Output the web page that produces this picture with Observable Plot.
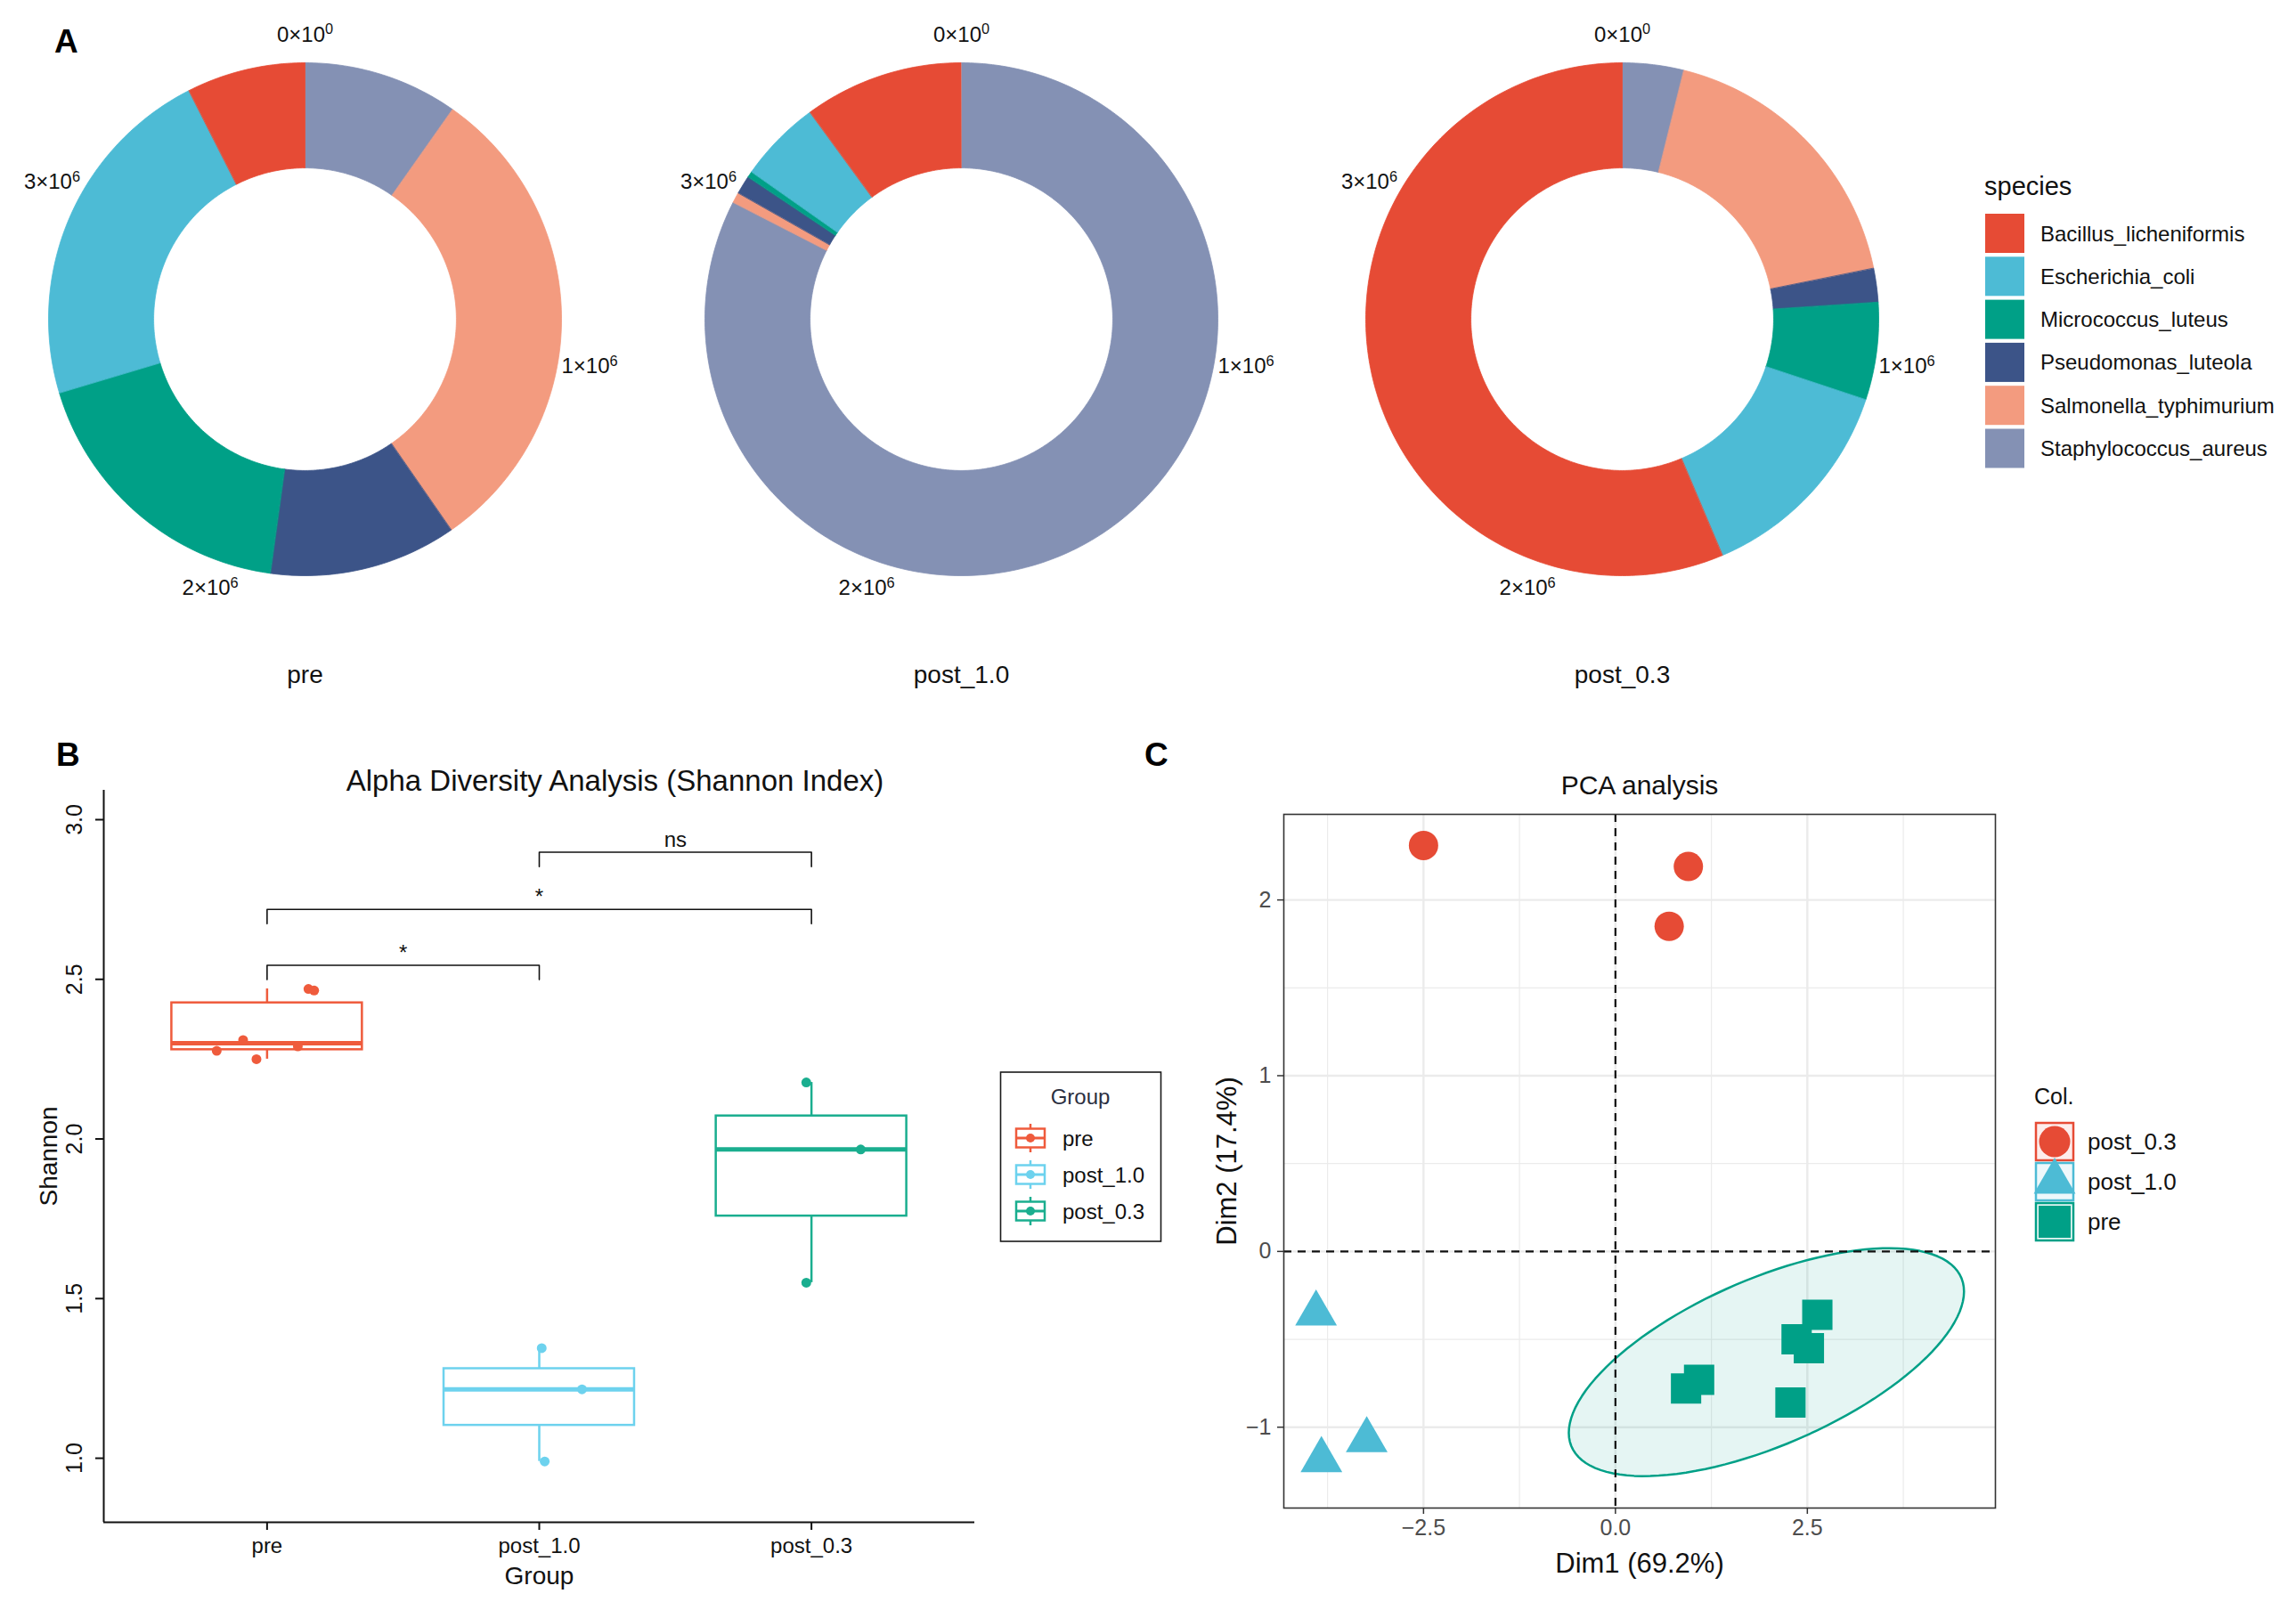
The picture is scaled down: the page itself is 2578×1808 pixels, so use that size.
<!DOCTYPE html>
<html><head><meta charset="utf-8">
<script src="https://cdn.jsdelivr.net/npm/d3@7"></script>
<script src="https://cdn.jsdelivr.net/npm/@observablehq/plot@0.6"></script>
<style>
html,body{margin:0;padding:0;background:#fff;}
#root{position:relative;width:2578px;height:1808px;overflow:hidden;background:#fff;font-family:"Liberation Sans",Arial,Helvetica,sans-serif;}
</style></head><body><div id="root"></div>
<script>
// ---------------- data ----------------
// Panel A: species counts per sample
const speciesNames = ["Bacillus_licheniformis","Escherichia_coli","Micrococcus_luteus","Pseudomonas_luteola","Salmonella_typhimurium","Staphylococcus_aureus"];
const speciesColors = ["#E64B35","#4DBBD5","#00A087","#3C5488","#F39B7F","#8491B4"];
const sampleNames = ["pre","post_1.0","post_0.3"];
const countsPre    = [270000, 801000, 658000, 427000, 1106000, 353000];
const countsPost10 = [362000, 188000, 14000, 42000, 24000, 2984000];
const countsPost03 = [2038000, 489000, 222000, 77000, 649000, 140000];
const thetaTicks = [0, 1e6, 2e6, 3e6];
const thetaTickLabels = ["0×10⁰","1×10⁶","2×10⁶","3×10⁶"];

// Panel B: Shannon index
const groupNames = ["pre","post_1.0","post_0.3"];
const groupColors = ["#EF5B3C","#6DD2EE","#1AAE8F"];
const shannonPre    = [2.276, 2.31, 2.25, 2.29, 2.47, 2.465];
const jitterPre     = [-0.185, -0.088, -0.039, 0.113, 0.152, 0.173];
const shannonPost10 = [1.345, 1.216, 0.99];
const jitterPost10  = [0.009, 0.157, 0.02];
const shannonPost03 = [2.177, 1.967, 1.55];
const jitterPost03  = [-0.019, 0.181, -0.019];
const shannonTicks = [1.0, 1.5, 2.0, 2.5, 3.0];
const compGroup1 = ["post_1.0","pre","pre"];
const compGroup2 = ["post_0.3","post_0.3","post_1.0"];
const compY      = [2.898, 2.719, 2.544];
const compLabel  = ["ns","*","*"];

// Panel C: PCA coordinates
const pcaGroups = ["post_0.3","post_1.0","pre"];
const pcaColors = ["#E64B35","#4DBBD5","#00A087"];
const pcaSymbols = ["circle","triangle","square"];
const dim1Post03 = [-2.50, 0.95, 0.70];
const dim2Post03 = [2.31, 2.19, 1.85];
const dim1Post10 = [-3.90, -3.24, -3.83];
const dim2Post10 = [-0.353, -1.074, -1.187];
const dim1Pre = [2.63, 2.36, 2.52, 1.09, 0.92, 2.28];
const dim2Pre = [-0.36, -0.50, -0.55, -0.73, -0.78, -0.86];
const dimXTicks = [-2.5, 0, 2.5];
const dimXMinor = [-3.75, -1.25, 1.25, 3.75];
const dimYTicks = [-1, 0, 1, 2];
const dimYMinor = [-0.5, 0.5, 1.5];

// ---------------- helpers ----------------
const FONT = '"Liberation Sans", Arial, Helvetica, sans-serif';
const root = document.getElementById("root");
function place(el, left, top) {
  el.style.position = "absolute";
  el.style.left = left + "px";
  el.style.top = top + "px";
  el.style.background = "transparent";
  el.style.maxWidth = "none";
  el.style.overflow = "visible";
  root.appendChild(el);
}
const SUP = "⁰¹²³⁴⁵⁶⁷⁸⁹";
function superscriptify(svg) {
  d3.select(svg).selectAll("text").each(function () {
    const t = this.textContent;
    const m = t.match(/^(.*?)([⁰¹²³⁴⁵⁶⁷⁸⁹]+)$/);
    if (!m) return;
    const sel = d3.select(this);
    sel.text(null);
    sel.append("tspan").text(m[1]);
    sel.append("tspan").attr("font-size", "0.68em").attr("dy", "-0.5em")
      .text([...m[2]].map(c => SUP.indexOf(c)).join(""));
  });
}

// ---------------- Panel A: donuts ----------------
const R_OUT = 288, HOLE = 0.59;
const donutCenters = [[342, 358], [1079, 358], [1821, 358]];
const allCounts = [countsPre, countsPost10, countsPost03];
const thetaMax = d3.max(allCounts, c => d3.sum(c));
const ang = v => v / thetaMax * 2 * Math.PI;

allCounts.forEach((counts, s) => {
  const poly = [];
  let cum = 0;
  for (let k = counts.length - 1; k >= 0; k--) {
    const a0 = ang(cum); cum += counts[k]; const a1 = ang(cum);
    const n = Math.max(2, Math.ceil((a1 - a0) * 180 / Math.PI));
    for (let i = 0; i <= n; i++) { const a = a0 + (a1 - a0) * i / n; poly.push({species: speciesNames[k], x: Math.sin(a), y: Math.cos(a)}); }
    for (let i = n; i >= 0; i--) { const a = a0 + (a1 - a0) * i / n; poly.push({species: speciesNames[k], x: HOLE * Math.sin(a), y: HOLE * Math.cos(a)}); }
  }
  const p = Plot.plot({
    width: 700, height: 820, margin: 0,
    x: {domain: [-350 / R_OUT, 350 / R_OUT], axis: null},
    y: {domain: [-470 / R_OUT, 350 / R_OUT], axis: null},
    color: {domain: speciesNames, range: speciesColors},
    style: {fontFamily: FONT, background: "transparent", overflow: "visible"},
    marks: [
      Plot.line(poly, {x: "x", y: "y", z: "species", fill: "species", stroke: "species", strokeWidth: 0.8, curve: "linear-closed"}),
      Plot.text(thetaTicks, {x: v => 1.125 * Math.sin(ang(v)), y: v => 1.11 * Math.cos(ang(v)), text: (v, i) => thetaTickLabels[i], fontSize: 24, fill: "#111", lineAnchor: "middle"}),
      Plot.text([sampleNames[s]], {x: 0, y: -400 / R_OUT, text: d => d, fontSize: 28, fill: "#111", lineAnchor: "middle"})
    ]
  });
  superscriptify(p);
  place(p, donutCenters[s][0] - 350, donutCenters[s][1] - 350);
});

// ---------------- Panel B: boxplot ----------------
const shannonVals = [shannonPre, shannonPost10, shannonPost03];
const jitters = [jitterPre, jitterPost10, jitterPost03];
const bPoints = [];
shannonVals.forEach((vals, gi) => vals.forEach((v, j) => bPoints.push({group: groupNames[gi], gx: gi + 1 + jitters[gi][j], y: v})));
const bStats = shannonVals.map((vals, gi) => {
  const s = vals.slice().sort(d3.ascending);
  const q1 = d3.quantile(s, 0.25), med = d3.quantile(s, 0.5), q3 = d3.quantile(s, 0.75);
  const iqr = q3 - q1;
  const lo = d3.min(s.filter(v => v >= q1 - 1.5 * iqr));
  const hi = d3.max(s.filter(v => v <= q3 + 1.5 * iqr));
  return {group: groupNames[gi], gx: gi + 1, q1, med, q3, lo, hi};
});
const gIndex = g => groupNames.indexOf(g) + 1;
const TIP = 0.045;
const bracketPts = [];
compY.forEach((y, i) => {
  const a = gIndex(compGroup1[i]), b = gIndex(compGroup2[i]);
  bracketPts.push({id: i, x: a, y: y - TIP}, {id: i, x: a, y}, {id: i, x: b, y}, {id: i, x: b, y: y - TIP});
});
const comps = compY.map((y, i) => ({x: (gIndex(compGroup1[i]) + gIndex(compGroup2[i])) / 2, y, label: compLabel[i]}));
const fmt1 = d3.format(".1f");

const pB = Plot.plot({
  width: 1110, height: 930,
  marginLeft: 116, marginRight: 16, marginTop: 27, marginBottom: 81,
  x: {domain: [0.4, 3.6], label: null},
  y: {domain: [0.7994, 3.092], label: null},
  color: {domain: groupNames, range: groupColors},
  style: {fontFamily: FONT, background: "transparent", overflow: "visible"},
  marks: [
    Plot.ruleX(bStats, {x: "gx", y1: "q3", y2: "hi", stroke: "group", strokeWidth: 2.5}),
    Plot.ruleX(bStats, {x: "gx", y1: "q1", y2: "lo", stroke: "group", strokeWidth: 2.5}),
    Plot.rect(bStats, {x1: d => d.gx - 0.35, x2: d => d.gx + 0.35, y1: "q1", y2: "q3", stroke: "group", fill: "white", strokeWidth: 2.5}),
    Plot.ruleY(bStats, {y: "med", x1: d => d.gx - 0.35, x2: d => d.gx + 0.35, stroke: "group", strokeWidth: 5}),
    Plot.dot(bPoints, {x: "gx", y: "y", fill: "group", r: 5.5}),
    Plot.line(bracketPts, {x: "x", y: "y", z: "id", stroke: "#111", strokeWidth: 1.6}),
    Plot.text(comps, {x: "x", y: "y", text: "label", lineAnchor: "bottom", dy: -6, fontSize: 24, fill: "#111"}),
    Plot.ruleX([0.4], {stroke: "#111", strokeWidth: 2}),
    Plot.ruleY([0.7994], {stroke: "#111", strokeWidth: 2}),
    Plot.axisX([1, 2, 3], {tickFormat: i => groupNames[i - 1], tickSize: 9, tickPadding: 8, fontSize: 24, fill: "#111", stroke: "#111", strokeWidth: 2, label: null}),
    Plot.axisY(shannonTicks, {tickSize: 9, tickFormat: () => "", stroke: "#111", strokeWidth: 2, label: null}),
    Plot.text(shannonTicks, {y: d => d, text: d => fmt1(d), frameAnchor: "left", dx: -33, rotate: -90, textAnchor: "middle", lineAnchor: "middle", fontSize: 25, fill: "#111"}),
    Plot.text(["Alpha Diversity Analysis (Shannon Index)"], {text: d => d, frameAnchor: "top", dx: 85, dy: -10, textAnchor: "middle", lineAnchor: "middle", fontSize: 33, fill: "#111"}),
    Plot.text(["Group"], {text: d => d, frameAnchor: "bottom", dy: 61, textAnchor: "middle", lineAnchor: "middle", fontSize: 28, fill: "#111"}),
    Plot.text(["Shannon"], {text: d => d, frameAnchor: "left", dx: -61, rotate: -90, textAnchor: "middle", lineAnchor: "middle", fontSize: 28, fill: "#111"})
  ]
});
place(pB, 0, 860);

// ---------------- Panel C: PCA ----------------
const pcaPts = [];
[[dim1Post03, dim2Post03], [dim1Post10, dim2Post10], [dim1Pre, dim2Pre]].forEach(([xs, ys], gi) =>
  xs.forEach((x, j) => pcaPts.push({group: pcaGroups[gi], x, y: ys[j]})));
// 95% normal confidence ellipse for "pre" (as stat_ellipse type = "norm")
const ell = (() => {
  const n = dim1Pre.length, mx = d3.mean(dim1Pre), my = d3.mean(dim2Pre);
  let sxx = 0, syy = 0, sxy = 0;
  for (let i = 0; i < n; i++) { const dx = dim1Pre[i] - mx, dy = dim2Pre[i] - my; sxx += dx * dx; syy += dy * dy; sxy += dx * dy; }
  sxx /= n - 1; syy /= n - 1; sxy /= n - 1;
  const dfd = n - 1, level = 0.95;
  const qf = (dfd / 2) * (Math.pow(1 - level, -2 / dfd) - 1);
  const radius = Math.sqrt(2 * qf);
  const r11 = Math.sqrt(sxx), r12 = sxy / r11, r22 = Math.sqrt(syy - r12 * r12);
  const pts = [];
  for (let i = 0; i <= 120; i++) {
    const t = i / 120 * 2 * Math.PI;
    pts.push({x: mx + radius * Math.cos(t) * r11, y: my + radius * (Math.cos(t) * r12 + Math.sin(t) * r22)});
  }
  return pts;
})();

const pC = Plot.plot({
  width: 1000, height: 940,
  marginLeft: 181, marginRight: 20, marginTop: 54, marginBottom: 107,
  x: {domain: [-4.32, 4.95], label: null},
  y: {domain: [-1.46, 2.487], label: null},
  style: {fontFamily: FONT, background: "transparent", overflow: "visible"},
  marks: [
    Plot.gridX(dimXMinor, {stroke: "#EBEBEB", strokeOpacity: 1, strokeWidth: 1.2}),
    Plot.gridY(dimYMinor, {stroke: "#EBEBEB", strokeOpacity: 1, strokeWidth: 1.2}),
    Plot.gridX(dimXTicks, {stroke: "#EBEBEB", strokeOpacity: 1, strokeWidth: 2.4}),
    Plot.gridY(dimYTicks, {stroke: "#EBEBEB", strokeOpacity: 1, strokeWidth: 2.4}),
    Plot.line(ell, {x: "x", y: "y", fill: pcaColors[2], fillOpacity: 0.1, stroke: pcaColors[2], strokeWidth: 2.5, curve: "linear-closed"}),
    Plot.ruleX([0], {stroke: "#111", strokeWidth: 2.2, strokeDasharray: "9,7"}),
    Plot.ruleY([0], {stroke: "#111", strokeWidth: 2.2, strokeDasharray: "9,7"}),
    Plot.dot(pcaPts.filter(d => d.group === pcaGroups[0]), {x: "x", y: "y", symbol: pcaSymbols[0], r: 16.5, fill: pcaColors[0], stroke: "none"}),
    Plot.dot(pcaPts.filter(d => d.group === pcaGroups[1]), {x: "x", y: "y", symbol: pcaSymbols[1], r: 17.4, fill: pcaColors[1], stroke: "none"}),
    Plot.dot(pcaPts.filter(d => d.group === pcaGroups[2]), {x: "x", y: "y", symbol: pcaSymbols[2], r: 19.2, fill: pcaColors[2], stroke: "none"}),
    Plot.frame({stroke: "#333", strokeWidth: 1.6}),
    Plot.axisX(dimXTicks, {tickFormat: d3.format(".1f"), tickSize: 7, tickPadding: 6, fontSize: 25, fill: "#4D4D4D", stroke: "#333", strokeWidth: 1.5, label: null}),
    Plot.axisY(dimYTicks, {tickFormat: d3.format("d"), tickSize: 7, tickPadding: 7, fontSize: 25, fill: "#4D4D4D", stroke: "#333", strokeWidth: 1.5, label: null}),
    Plot.text(["PCA analysis"], {text: d => d, frameAnchor: "top", dy: -32, textAnchor: "middle", lineAnchor: "middle", fontSize: 30, fill: "#111"}),
    Plot.text(["Dim1 (69.2%)"], {text: d => d, frameAnchor: "bottom", dy: 63, textAnchor: "middle", lineAnchor: "middle", fontSize: 31, fill: "#111"}),
    Plot.text(["Dim2 (17.4%)"], {text: d => d, frameAnchor: "left", dx: -63, rotate: -90, textAnchor: "middle", lineAnchor: "middle", fontSize: 31, fill: "#111"})
  ]
});
place(pC, 1260, 860);

// ---------------- overlay: panel letters and legends ----------------
const ov = d3.create("svg").attr("width", 2578).attr("height", 1808)
  .style("position", "absolute").style("left", "0px").style("top", "0px")
  .style("font-family", FONT).style("pointer-events", "none");
ov.append("text").attr("x", 61).attr("y", 59).attr("font-size", 37).attr("font-weight", "bold").text("A");
ov.append("text").attr("x", 63).attr("y", 860).attr("font-size", 37).attr("font-weight", "bold").text("B");
ov.append("text").attr("x", 1285).attr("y", 860).attr("font-size", 37).attr("font-weight", "bold").text("C");

// species legend
ov.append("text").attr("x", 2228).attr("y", 209).attr("dominant-baseline", "central").attr("font-size", 29).attr("fill", "#111").text("species");
speciesNames.forEach((s, i) => {
  const top = 240 + i * 48.3;
  ov.append("rect").attr("x", 2229).attr("y", top).attr("width", 44).attr("height", 44).attr("fill", speciesColors[i]);
  ov.append("text").attr("x", 2291).attr("y", top + 22).attr("dominant-baseline", "central").attr("font-size", 24).attr("fill", "#111").text(s);
});

// Group legend (panel B)
ov.append("rect").attr("x", 1123.5).attr("y", 1204).attr("width", 180).attr("height", 190).attr("fill", "white").attr("stroke", "#1a1a1a").attr("stroke-width", 1.6);
ov.append("text").attr("x", 1213).attr("y", 1231).attr("text-anchor", "middle").attr("dominant-baseline", "central").attr("font-size", 24).attr("fill", "#2B2F3F").text("Group");
groupNames.forEach((g, i) => {
  const cy = 1278 + i * 41, cx = 1157, c = groupColors[i];
  const gk = ov.append("g").attr("stroke", c).attr("stroke-width", 2.5).attr("fill", "none");
  gk.append("line").attr("x1", cx).attr("x2", cx).attr("y1", cy - 16).attr("y2", cy + 16);
  gk.append("rect").attr("x", cx - 16).attr("y", cy - 10.5).attr("width", 32).attr("height", 21).attr("fill", "white");
  gk.append("line").attr("x1", cx - 16).attr("x2", cx + 16).attr("y1", cy).attr("y2", cy).attr("stroke-width", 3);
  ov.append("circle").attr("cx", cx).attr("cy", cy).attr("r", 5).attr("fill", c);
  ov.append("text").attr("x", 1193).attr("y", cy).attr("dominant-baseline", "central").attr("font-size", 24).attr("fill", "#111").text(g);
});

// Col. legend (panel C)
const tints = ["#FDEDEB", "#EEF8FB", "#E6F6F3"];
ov.append("text").attr("x", 2284).attr("y", 1231).attr("dominant-baseline", "central").attr("font-size", 25).attr("fill", "#111").text("Col.");
pcaGroups.forEach((g, i) => {
  const top = 1261 + i * 45, cx = 2307, cy = top + 21, c = pcaColors[i];
  ov.append("rect").attr("x", 2286).attr("y", top).attr("width", 42).attr("height", 42).attr("fill", tints[i]).attr("stroke", c).attr("stroke-width", 2.5);
  const sym = d3.symbol().type(i === 0 ? d3.symbolCircle : i === 1 ? d3.symbolTriangle : d3.symbolSquare)
    .size(i === 0 ? Math.PI * 17.5 * 17.5 : i === 1 ? Math.PI * 17.4 * 17.4 : 36 * 36);
  ov.append("path").attr("transform", `translate(${cx},${cy})`).attr("d", sym()).attr("fill", c);
  ov.append("text").attr("x", 2344).attr("y", cy).attr("dominant-baseline", "central").attr("font-size", 26).attr("fill", "#111").text(g);
});
root.appendChild(ov.node());
</script>
</body></html>
